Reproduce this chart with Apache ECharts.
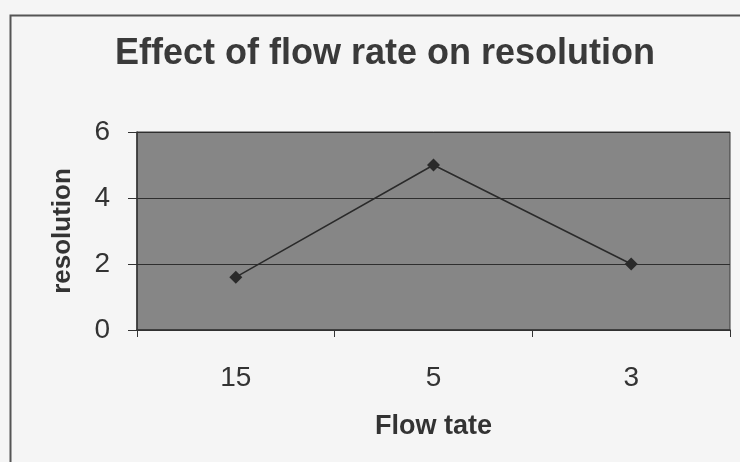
<!DOCTYPE html>
<html>
<head>
<meta charset="utf-8">
<script src="https://cdn.jsdelivr.net/npm/echarts@6/dist/echarts.min.js"></script>
<style>
  html, body { margin: 0; padding: 0; background: #f5f5f5; }
  #chart { width: 740px; height: 462px; }
</style>
</head>
<body>
<div id="chart"></div>
<script>
// flow rate categories (as printed on the axis) and measured resolution
const flowRates = ['15', '5', '3']
const resolution = [1.6, 5.0, 2.0]
const yTicks = { min: 0, max: 6, interval: 2 }

const chart = echarts.init(document.getElementById('chart'))
chart.setOption({
  backgroundColor: '#f5f5f5',
  textStyle: { fontFamily: 'Liberation Sans, Arial, sans-serif' },
  title: {
    text: 'Effect of flow rate on resolution',
    left: 110,
    top: 31,
    textStyle: { fontSize: 36, fontWeight: 'bold', color: '#3a3a3a' }
  },
  graphic: [{
    type: 'rect',
    left: 8,
    top: 13,
    shape: { width: 760, height: 480 },
    style: { fill: 'none', stroke: '#555', lineWidth: 2 }
  }],
  grid: {
    left: 137,
    right: 10,
    top: 132,
    bottom: 132,
    show: true,
    backgroundColor: '#868686',
    borderColor: '#3a3a3a',
    borderWidth: 1
  },
  xAxis: {
    type: 'category',
    data: flowRates,
    boundaryGap: true,
    name: 'Flow tate',
    nameLocation: 'middle',
    nameGap: 83,
    nameTextStyle: { fontSize: 27, fontWeight: 'bold', color: '#333' },
    axisLine: { lineStyle: { color: '#333', width: 1.5 } },
    axisTick: { show: true, length: 7, lineStyle: { color: '#333' } },
    axisLabel: { fontSize: 28, color: '#333', margin: 34 }
  },
  yAxis: {
    type: 'value',
    min: yTicks.min,
    max: yTicks.max,
    interval: yTicks.interval,
    name: 'resolution',
    nameLocation: 'middle',
    nameRotate: 90,
    nameGap: 61,
    nameTextStyle: { fontSize: 26, fontWeight: 'bold', color: '#333' },
    axisLine: { show: true, lineStyle: { color: '#333', width: 1.5 } },
    axisTick: { show: true, length: 9, lineStyle: { color: '#333' } },
    axisLabel: { fontSize: 28, color: '#333', margin: 27 },
    splitLine: { lineStyle: { color: '#2e2e2e', width: 1.2 } }
  },
  series: [{
    type: 'line',
    data: resolution,
    symbol: 'diamond',
    symbolSize: 13,
    lineStyle: { color: '#2a2a2a', width: 1.5 },
    itemStyle: { color: '#2a2a2a' }
  }]
})
</script>
</body>
</html>
